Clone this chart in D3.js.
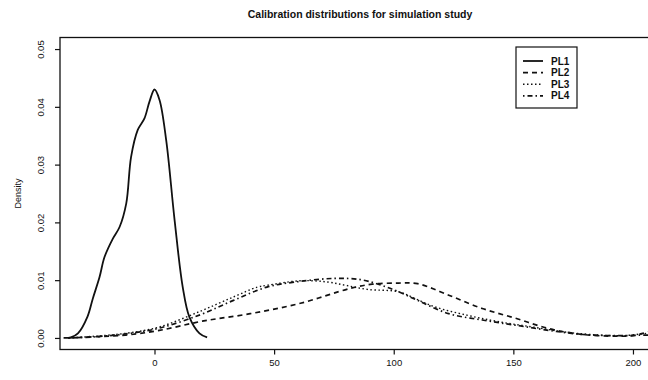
<!DOCTYPE html>
<html><head><meta charset="utf-8">
<script src="https://cdn.jsdelivr.net/npm/d3@7"></script>
<style>
body{margin:0;background:#fff;}
text{font-family:"Liberation Sans",Arial,Helvetica,sans-serif;fill:#111;}
</style></head>
<body><svg id="c" width="648" height="380"></svg>
<script>
const seriesNames = ["PL1","PL2","PL3","PL4"];
const pl1X = [-38,-35,-32,-28,-25.8,-23,-20.9,-17.4,-14.6,-11.8,-9.8,-7,-4.2,-2.1,0,2.1,4.9,8.4,11.8,14.6,18.8,22];
const pl1Y = [0,0.0001,0.0008,0.0037,0.0068,0.0105,0.014,0.0172,0.0192,0.0233,0.0313,0.036,0.038,0.0409,0.043,0.0412,0.0342,0.0204,0.0088,0.0036,0.0008,0.0001];
const pl2X = [-36,-25,-12,2,20,40,61,82,91,102,110,123,137,151,165,179,193,200,206,212];
const pl2Y = [0,0.0002,0.0005,0.0013,0.0029,0.0042,0.006,0.0086,0.0093,0.0095,0.0094,0.0074,0.0051,0.0034,0.0016,0.0006,0.0003,0.0004,0.001,0.0016];
const pl3X = [-36,-25,-12,2,19,33,43,47,61,72,80,89,102,109,117,131,144,158,172,186,196,206,212];
const pl3Y = [0,0.0003,0.0008,0.0019,0.0046,0.0071,0.0088,0.0091,0.0099,0.0097,0.0091,0.0084,0.008,0.0068,0.0054,0.0039,0.0028,0.0019,0.001,0.0005,0.0004,0.0008,0.001];
const pl4X = [-36,-25,-12,2,19,33,47,61,75,86,95,102,110,123,137,151,165,179,193,206,212];
const pl4Y = [0,0.0002,0.0007,0.0017,0.004,0.0065,0.0088,0.0098,0.0103,0.0101,0.0091,0.008,0.0065,0.0042,0.0031,0.0022,0.0013,0.0006,0.0004,0.0005,0.0005];
const xTicks = [0,50,100,150,200];
const yTicks = [0,0.01,0.02,0.03,0.04,0.05];
const title = "Calibration distributions for simulation study";
const yLabel = "Density";

const dashes = ["none","5,4","1.5,2.5","1.5,3,5,3"];
const widths = [1.8,1.7,1.4,1.7];

const svg = d3.select("#c");
const L=60, R=660, T=37.5, B=349.5;
const x = d3.scaleLinear().domain([-39.5,211.3]).range([L,R]);
const y = d3.scaleLinear().domain([-0.002,0.052]).range([B,T]);

svg.append("defs").append("clipPath").attr("id","clip")
  .append("rect").attr("x",L).attr("y",T).attr("width",R-L).attr("height",B-T);

svg.append("text").attr("x",(L+R)/2).attr("y",18).attr("text-anchor","middle")
  .style("font-size","10.5px").style("font-weight","bold").text(title);

const xa = svg.append("g").attr("transform",`translate(0,${B})`)
  .call(d3.axisBottom(x).tickValues(xTicks).tickSize(5).tickPadding(5).tickFormat(d3.format("d")));
xa.select(".domain").remove();
xa.selectAll("line").attr("stroke","#111").attr("stroke-width",1.2);
xa.selectAll("text").style("font-size","9.5px").attr("fill","#111");

const ya = svg.append("g").attr("transform",`translate(${L},0)`)
  .call(d3.axisLeft(y).tickValues(yTicks).tickSize(5).tickFormat(d3.format(".2f")));
ya.select(".domain").remove();
ya.selectAll("line").attr("stroke","#111").attr("stroke-width",1.2);
ya.selectAll(".tick text").attr("transform","rotate(-90)").attr("x",0).attr("y",-19)
  .attr("dy","0.32em").attr("text-anchor","middle").style("font-size","9.5px").attr("fill","#111");

svg.append("text").attr("transform",`translate(18,${(T+B)/2}) rotate(-90)`)
  .attr("text-anchor","middle").attr("dy","0.32em").style("font-size","9px").attr("fill","#111").text(yLabel);

svg.append("rect").attr("x",L).attr("y",T).attr("width",R-L).attr("height",B-T)
  .attr("fill","none").attr("stroke","#111").attr("stroke-width",1.3);

const xs=[pl1X,pl2X,pl3X,pl4X], ys=[pl1Y,pl2Y,pl3Y,pl4Y];
const line = d3.line().x(d=>x(d[0])).y(d=>y(d[1])).curve(d3.curveCatmullRom.alpha(0.5));
const g = svg.append("g").attr("clip-path","url(#clip)");
seriesNames.forEach((n,i)=>{
  const pts = xs[i].map((v,j)=>[v,ys[i][j]]);
  g.append("path").attr("d",line(pts)).attr("fill","none").attr("stroke","#111")
    .attr("stroke-width",widths[i]).attr("stroke-dasharray",dashes[i]);
});

const lg = svg.append("g");
lg.append("rect").attr("x",516).attr("y",47).attr("width",61).attr("height",61)
  .attr("fill","#fff").attr("stroke","#111").attr("stroke-width",1.2);
seriesNames.forEach((n,i)=>{
  const yy = 61 + i*11.6;
  lg.append("line").attr("x1",523).attr("x2",543).attr("y1",yy).attr("y2",yy)
    .attr("stroke","#111").attr("stroke-width",widths[i]).attr("stroke-dasharray",dashes[i]);
  lg.append("text").attr("x",551).attr("y",yy).attr("dy","0.35em")
    .style("font-size","10px").style("font-weight","bold").text(n);
});
</script></body></html>
